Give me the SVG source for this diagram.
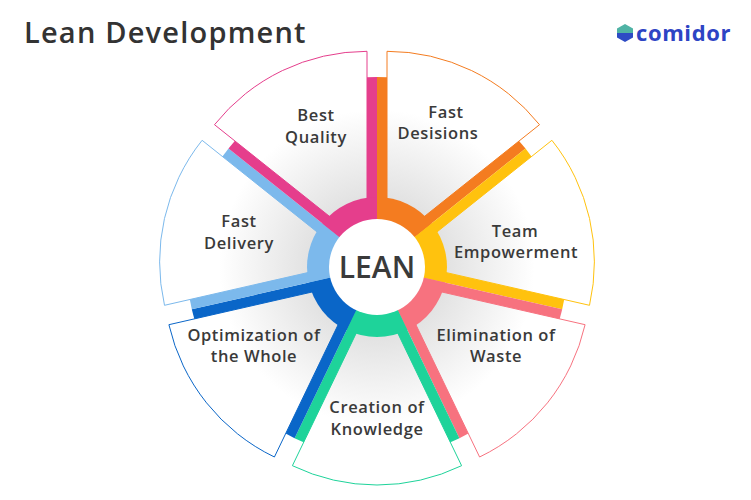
<svg xmlns="http://www.w3.org/2000/svg" width="751" height="500" viewBox="0 0 751 500">
<style>
.t{font-family:"Open Sans","Liberation Sans",sans-serif;font-size:16.5px;font-weight:600;fill:#3a3a3a;text-anchor:middle;letter-spacing:0.6px}
.card{fill:url(#g);stroke-width:1}
</style>
<defs>
<radialGradient id="g" gradientUnits="userSpaceOnUse" cx="377" cy="267" r="210">
<stop offset="0.3" stop-color="#e0e0e0"/><stop offset="0.75" stop-color="#ffffff"/>
</radialGradient>
</defs>
<rect width="751" height="500" fill="#fff"/>
<text x="24" y="43" font-family="'Open Sans','Liberation Sans',sans-serif" font-size="29" font-weight="600" fill="#333" letter-spacing="1.2">Lean Development</text>
<g id="logo">
<polygon points="625,24 633,28.5 633,33 617,33 617,28.5" fill="#4fb3a5"/>
<polygon points="617,33 633,33 633,37.5 625,42 617,37.5" fill="#2d4bc4"/>
<text x="636" y="41" font-family="'Open Sans','Liberation Sans',sans-serif" font-size="22" font-weight="700" fill="#2d44c4" letter-spacing="0.6">comidor</text>
</g>
<g id="connectors">
<path d="M377,267 L377,77 A190,190 0 0 1 525.5,148.5 Z" fill="#f47c20"/>
<path d="M377,267 L525.5,148.5 A190,190 0 0 1 562.2,309.3 Z" fill="#ffc20e"/>
<path d="M377,267 L562.2,309.3 A190,190 0 0 1 459.4,438.2 Z" fill="#f7727f"/>
<path d="M377,267 L459.4,438.2 A190,190 0 0 1 294.6,438.2 Z" fill="#1ed39a"/>
<path d="M377,267 L294.6,438.2 A190,190 0 0 1 191.8,309.3 Z" fill="#0a66c8"/>
<path d="M377,267 L191.8,309.3 A190,190 0 0 1 228.5,148.5 Z" fill="#7cb9ec"/>
<path d="M377,267 L228.5,148.5 A190,190 0 0 1 377,77 Z" fill="#e53e8c"/>
</g>
<g id="n1"><path class="card" d="M387,246.3 L387,51.3 A195,195 0 0 1 539.5,124.7 Z" stroke="#f47c20"/><text class="t" x="446" y="118">Fast</text><text class="t" x="438" y="139">Desisions</text></g>
<g id="n2"><path class="card" d="M399.4,261.9 L551.9,140.3 A195,195 0 0 1 589.5,305.3 Z" stroke="#ffc20e"/><text class="t" x="515" y="237">Team</text><text class="t" x="516" y="258">Empowerment</text></g>
<g id="n3"><path class="card" d="M395,281.3 L585.1,324.7 A195,195 0 0 1 479.6,457 Z" stroke="#f7727f"/><text class="t" x="496" y="341">Elimination of</text><text class="t" x="496" y="362">Waste</text></g>
<g id="n4"><path class="card" d="M377,290 L461.6,465.7 A195,195 0 0 1 292.4,465.7 Z" stroke="#1ed39a"/><text class="t" x="377" y="413">Creation of</text><text class="t" x="377" y="435">Knowledge</text></g>
<g id="n5"><path class="card" d="M359,281.3 L274.4,457 A195,195 0 0 1 168.9,324.7 Z" stroke="#0a66c8"/><text class="t" x="254" y="341">Optimization of</text><text class="t" x="254" y="362">the Whole</text></g>
<g id="n6"><path class="card" d="M354.6,261.9 L164.5,305.3 A195,195 0 0 1 202.1,140.3 Z" stroke="#7cb9ec"/><text class="t" x="239" y="227">Fast</text><text class="t" x="239" y="249">Delivery</text></g>
<g id="n7"><path class="card" d="M367,246.3 L214.5,124.7 A195,195 0 0 1 367,51.3 Z" stroke="#e53e8c"/><text class="t" x="316" y="121">Best</text><text class="t" x="316" y="143">Quality</text></g>
<g id="ring">
<path d="M377,267 L377,197 A70,70 0 0 1 431.7,223.4 Z" fill="#f47c20"/>
<path d="M377,267 L431.7,223.4 A70,70 0 0 1 445.2,282.6 Z" fill="#ffc20e"/>
<path d="M377,267 L445.2,282.6 A70,70 0 0 1 407.4,330.1 Z" fill="#f7727f"/>
<path d="M377,267 L407.4,330.1 A70,70 0 0 1 346.6,330.1 Z" fill="#1ed39a"/>
<path d="M377,267 L346.6,330.1 A70,70 0 0 1 308.8,282.6 Z" fill="#0a66c8"/>
<path d="M377,267 L308.8,282.6 A70,70 0 0 1 322.3,223.4 Z" fill="#7cb9ec"/>
<path d="M377,267 L322.3,223.4 A70,70 0 0 1 377,197 Z" fill="#e53e8c"/>
</g>
<g id="center"><circle cx="377" cy="267" r="48" fill="#fff"/><text x="377" y="278" font-family="'Open Sans','Liberation Sans',sans-serif" font-size="30" font-weight="600" fill="#3a3a3a" text-anchor="middle">LEAN</text></g>
</svg>
